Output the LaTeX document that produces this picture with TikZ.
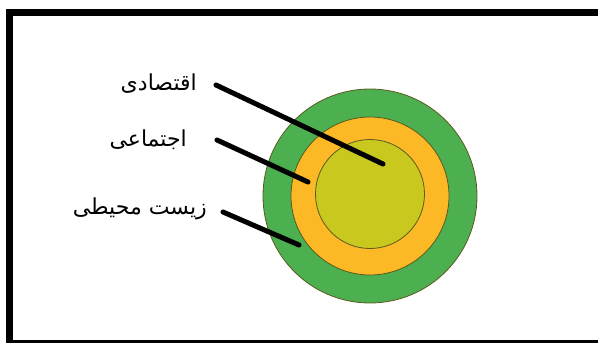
\documentclass[tikz,border=0pt]{standalone}
\usepackage{fontspec}
\TeXXeTstate=1
\newfontfamily\arabicfont[Script=Arabic]{DejaVu Sans}
\usetikzlibrary{positioning}
\definecolor{ringgreen}{HTML}{4CAF50}
\definecolor{ringorange}{HTML}{FDB825}
\definecolor{ringolive}{HTML}{C8C81E}
\definecolor{ringedge}{HTML}{5A5A1E}

\begin{document}
\begin{tikzpicture}[x=1pt, y=-1pt,
  ring/.style={circle, draw=ringedge, line width=0.8pt, inner sep=0pt},
  lbl/.style={anchor=east, inner sep=0pt, font=\arabicfont\fontsize{22}{26}\selectfont},
  pointer/.style={line width=5pt, line cap=round}
]
\useasboundingbox (0,0) rectangle (598,343);
\begin{scope}
  \clip (0,0) rectangle (598,343);
  \draw[line width=7pt] (9.5,12.5) rectangle (610,343.5);
\end{scope}
% rings
\node[ring, fill=ringgreen, minimum size=214pt] (env) at (370,196) {};
\node[ring, fill=ringorange, minimum size=158pt] (soc) at (370,196) {};
\node[ring, fill=ringolive, minimum size=109pt] (eco) at (370,194) {};
% labels
\node[lbl] (ecolbl) at (197,84) {\beginR اقتصادی\endR};
\node[lbl] (soclbl) at (187,140) {\beginR اجتماعی\endR};
\node[lbl] (envlbl) at (207,209) {\beginR زیست محیطی\endR};
\coordinate (ecoa) at (216,85);
\coordinate (soca) at (217,140);
\coordinate (enva) at (223,212);
\coordinate (ecob) at (383,164);
\coordinate (socb) at (308,182);
\coordinate (envb) at (299,245);
\foreach \a/\b in {ecoa/ecob, soca/socb, enva/envb}
  \draw[pointer] (\a) -- (\b);
\end{tikzpicture}
\end{document}
